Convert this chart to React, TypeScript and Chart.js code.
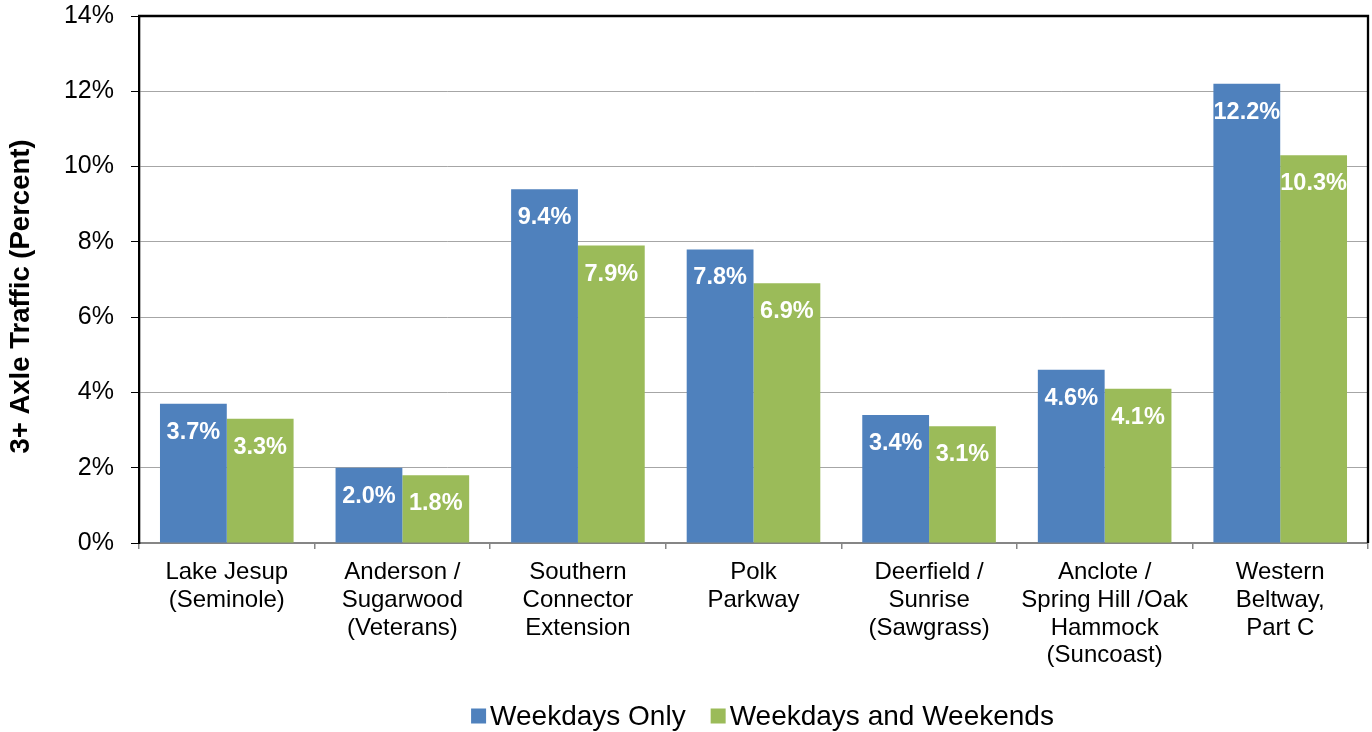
import React, { useEffect, useRef } from "react";
import { Chart, registerables } from "chart.js";

Chart.register(...registerables);

const categories: string[][] = [
  ["Lake Jesup", "(Seminole)"],
  ["Anderson /", "Sugarwood", "(Veterans)"],
  ["Southern", "Connector", "Extension"],
  ["Polk", "Parkway"],
  ["Deerfield /", "Sunrise", "(Sawgrass)"],
  ["Anclote /", "Spring Hill /Oak", "Hammock", "(Suncoast)"],
  ["Western", "Beltway,", "Part C"],
];
const weekdaysOnly = [3.7, 2.0, 9.4, 7.8, 3.4, 4.6, 12.2];
const weekdaysAndWeekends = [3.3, 1.8, 7.9, 6.9, 3.1, 4.1, 10.3];
const seriesNames = ["Weekdays Only", "Weekdays and Weekends"];
const seriesColors = ["#4F81BD", "#9BBB59"];
const yMin = 0;
const yMax = 14;
const yStep = 2;
const yTitle = "3+ Axle Traffic (Percent)";

const FONT = '"Liberation Sans", Arial, sans-serif';

const decorPlugin = {
  id: "decor",
  afterDatasetsDraw(chart: any) {
    const ctx = chart.ctx as CanvasRenderingContext2D;
    ctx.save();
    ctx.font = `bold 23.5px ${FONT}`;
    ctx.fillStyle = "#ffffff";
    ctx.textAlign = "center";
    ctx.textBaseline = "middle";
    chart.data.datasets.forEach((ds: any, di: number) => {
      const meta = chart.getDatasetMeta(di);
      meta.data.forEach((bar: any, i: number) => {
        const v = ds.data[i] as number;
        ctx.fillText(v.toFixed(1) + "%", bar.x, bar.y + 28.5);
      });
    });
    ctx.restore();
  },
  afterDraw(chart: any) {
    const ctx = chart.ctx as CanvasRenderingContext2D;
    const a = chart.chartArea;
    ctx.save();
    // top & right frame
    ctx.strokeStyle = "#000000";
    ctx.lineWidth = 2.3;
    ctx.beginPath();
    ctx.moveTo(a.left - 1, a.top);
    ctx.lineTo(a.right, a.top);
    ctx.lineTo(a.right, a.bottom);
    ctx.stroke();

    // y axis title
    ctx.save();
    ctx.translate(21, (a.top + a.bottom) / 2 + 17);
    ctx.rotate(-Math.PI / 2);
    ctx.font = `bold 27.5px ${FONT}`;
    ctx.fillStyle = "#000000";
    ctx.textAlign = "center";
    ctx.textBaseline = "middle";
    ctx.fillText(yTitle, 0, 0);
    ctx.restore();

    // legend
    ctx.font = `28px ${FONT}`;
    ctx.textBaseline = "middle";
    ctx.textAlign = "left";
    const box = 15;
    const gapBox = 4;
    const gapItem = 25;
    const widths = seriesNames.map((n) => box + gapBox + ctx.measureText(n).width);
    const total = widths.reduce((s, w) => s + w, 0) + gapItem * (widths.length - 1);
    let x = (a.left + a.right) / 2 + 9 - total / 2;
    const cy = chart.height - 16;
    seriesNames.forEach((n, i) => {
      ctx.fillStyle = seriesColors[i];
      ctx.fillRect(x, cy - box / 2, box, box);
      ctx.fillStyle = "#000000";
      ctx.fillText(n, x + box + gapBox, cy + 1);
      x += widths[i] + gapItem;
    });
    ctx.restore();
  },
};

export default function App() {
  const ref = useRef<HTMLCanvasElement | null>(null);

  useEffect(() => {
    if (!ref.current) return;
    Chart.defaults.font.family = FONT;
    const chart = new Chart(ref.current, {
      type: "bar",
      data: {
        labels: categories,
        datasets: [
          {
            label: seriesNames[0],
            data: weekdaysOnly,
            backgroundColor: seriesColors[0],
            borderWidth: 0,
            categoryPercentage: 0.761,
            barPercentage: 1.0,
          },
          {
            label: seriesNames[1],
            data: weekdaysAndWeekends,
            backgroundColor: seriesColors[1],
            borderWidth: 0,
            categoryPercentage: 0.761,
            barPercentage: 1.0,
          },
        ],
      },
      options: {
        responsive: false,
        animation: false,
        layout: { padding: { top: 16, right: 4, left: 0, bottom: 0 } },
        plugins: {
          legend: { display: false },
          tooltip: { enabled: false },
          title: { display: false },
        },
        scales: {
          x: {
            offset: true,
            grid: {
              offset: true,
              drawOnChartArea: false,
              drawTicks: true,
              tickLength: 6,
              tickColor: "#868686",
              color: "#868686",
              lineWidth: 1.5,
            },
            border: { color: "#868686", width: 2 },
            ticks: {
              color: "#000000",
              font: { size: 24, lineHeight: 1.15 },
              padding: 10,
              maxRotation: 0,
              minRotation: 0,
              autoSkip: false,
            },
            afterFit(scale: any) {
              scale.height = 189;
              scale.paddingLeft = 0;
              scale.paddingRight = 0;
            },
          },
          y: {
            min: yMin,
            max: yMax,
            grid: {
              color: "#A6A6A6",
              lineWidth: 1,
              drawTicks: true,
              tickLength: 8,
              tickColor: "#000000",
            },
            border: { color: "#000000", width: 2.3 },
            ticks: {
              stepSize: yStep,
              color: "#000000",
              font: { size: 25 },
              padding: 17,
              callback: (v: any) => `${v}%`,
            },
            afterFit(scale: any) {
              scale.width = 139;
              scale.paddingTop = 0;
              scale.paddingBottom = 0;
            },
          },
        },
      },
      plugins: [decorPlugin],
    });
    return () => chart.destroy();
  }, []);

  return (
    <div style={{ position: "absolute", left: 0, top: 0, width: 1372, height: 732, background: "#fff" }}>
      <canvas ref={ref} width={1372} height={732} style={{ width: 1372, height: 732, display: "block" }} />
    </div>
  );
}
